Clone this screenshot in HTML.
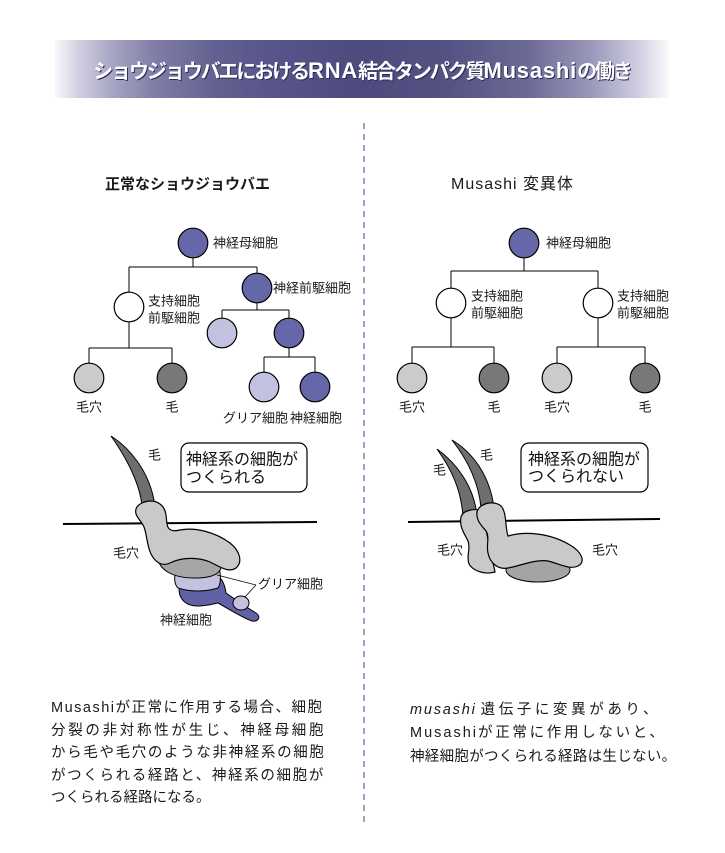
<!DOCTYPE html>
<html>
<head>
<meta charset="utf-8">
<style>
html,body{margin:0;padding:0;background:#fff;}
body{width:725px;height:853px;position:relative;overflow:hidden;
font-family:"Liberation Sans","Noto Sans CJK JP",sans-serif;color:#1a1a1a;}
.bar{position:absolute;left:55px;top:40px;width:614px;height:58px;
background:linear-gradient(to right,#f7f7fa 0%,#d0cfe0 4%,#a9a7c5 9%,#817fa7 16%,#636190 26%,#56548a 36%,#4d4b7d 50%,#545283 64%,#6c6a95 77%,#9896b8 87%,#cfcee0 95%,#fbfbfd 100%);
display:flex;align-items:center;justify-content:center;}
.bar .t{color:#fff;font-weight:bold;font-size:20px;letter-spacing:-2.1px;white-space:nowrap;
text-shadow:1px 1px 0 #2c2a55;font-family:"Liberation Sans","Noto Sans CJK JP",sans-serif;}
.bar .l{font-size:22px;letter-spacing:0.8px;}
.h{position:absolute;white-space:nowrap;line-height:20px;}
.p{position:absolute;white-space:nowrap;font-size:14.5px;line-height:20px;color:#1a1a1a;}
</style>
</head>
<body>
<div class="bar"><span class="t">ショウジョウバエにおける<span class="l">RNA</span>結合タンパク質<span class="l">Musashi</span>の働き</span></div>

<div class="h" style="left:105px;top:175px;font-size:15px;font-weight:bold;">正常なショウジョウバエ</div>
<div class="h" style="left:451px;top:175px;font-size:16px;letter-spacing:1px;">Musashi 変異体</div>

<svg width="725" height="853" viewBox="0 0 725 853" style="position:absolute;left:0;top:0;" xmlns="http://www.w3.org/2000/svg">
<line x1="364" y1="123" x2="364" y2="823" stroke="#6c6cae" stroke-width="1.3" stroke-dasharray="6 5"/>

<!-- LEFT TREE lines -->
<g stroke="#000" stroke-width="1" fill="none">
<path d="M193,258 V267 M129,267 H257 M129,267 V292 M257,267 V273"/>
<path d="M129,322 V348 M89,348 H172 M89,348 V363 M172,348 V363"/>
<path d="M257,303 V310 M222,310 H289 M222,310 V318 M289,310 V318"/>
<path d="M289,348 V357 M264,357 H315 M264,357 V372 M315,357 V372"/>
</g>
<g stroke="#000" stroke-width="1.2">
<circle cx="193" cy="243" r="14.8" fill="#6667a9"/>
<circle cx="129" cy="307" r="14.8" fill="#fff"/>
<circle cx="257" cy="288" r="14.8" fill="#6667a9"/>
<circle cx="89" cy="378" r="14.8" fill="#cbcbcb"/>
<circle cx="172" cy="378" r="14.8" fill="#787878"/>
<circle cx="222" cy="333" r="14.8" fill="#c2c1df"/>
<circle cx="289" cy="333" r="14.8" fill="#6667a9"/>
<circle cx="264" cy="387" r="14.8" fill="#c2c1df"/>
<circle cx="315" cy="387" r="14.8" fill="#6667a9"/>
</g>

<!-- RIGHT TREE lines -->
<g stroke="#000" stroke-width="1" fill="none">
<path d="M524,258 V271 M451,271 H598 M451,271 V288 M598,271 V288"/>
<path d="M451,318 V347 M412,347 H494 M412,347 V363 M494,347 V363"/>
<path d="M598,318 V347 M557,347 H645 M557,347 V363 M645,347 V363"/>
</g>
<g stroke="#000" stroke-width="1.2">
<circle cx="524" cy="243" r="14.8" fill="#6667a9"/>
<circle cx="451" cy="303" r="14.8" fill="#fff"/>
<circle cx="598" cy="303" r="14.8" fill="#fff"/>
<circle cx="412" cy="378" r="14.8" fill="#cbcbcb"/>
<circle cx="494" cy="378" r="14.8" fill="#787878"/>
<circle cx="557" cy="378" r="14.8" fill="#cbcbcb"/>
<circle cx="645" cy="378" r="14.8" fill="#787878"/>
</g>

<!-- tree labels -->
<g font-family="Liberation Sans, Noto Sans CJK JP, sans-serif" font-size="13" fill="#1a1a1a" dominant-baseline="central">
<text x="213" y="243">神経母細胞</text>
<text x="148" y="301">支持細胞</text>
<text x="148" y="318">前駆細胞</text>
<text x="273" y="288">神経前駆細胞</text>
<text x="89" y="407" text-anchor="middle">毛穴</text>
<text x="172" y="407" text-anchor="middle">毛</text>
<text x="223" y="418">グリア細胞</text>
<text x="290" y="418">神経細胞</text>

<text x="546" y="243">神経母細胞</text>
<text x="471" y="296">支持細胞</text>
<text x="471" y="313">前駆細胞</text>
<text x="617" y="296">支持細胞</text>
<text x="617" y="313">前駆細胞</text>
<text x="412" y="407" text-anchor="middle">毛穴</text>
<text x="494" y="407" text-anchor="middle">毛</text>
<text x="557" y="407" text-anchor="middle">毛穴</text>
<text x="645" y="407" text-anchor="middle">毛</text>
</g>

<!-- LEFT ILLUSTRATION -->
<line x1="63" y1="524" x2="317" y2="522" stroke="#000" stroke-width="2"/>
<path d="M111,436 C128,447 150,470 155,506 L142,506 C140,485 128,460 111,436 Z" fill="#6e6e6e" stroke="#000" stroke-width="1"/>
<path d="M182,580 C175,592 181,606 198,606 C207,606 213,604 218,603 C229,609 241,617 252,621 C259,622 261,616 256,613 C246,607 236,600 226,593 C225,585 222,579 218,576 Z" fill="#6062a5" stroke="#000" stroke-width="1"/>
<path d="M176,568 L219,566 C221,577 221,583 218,588 C205,592 190,592 178,588 C174,584 174,578 176,568 Z" fill="#c3c2e0" stroke="#000" stroke-width="1"/>
<path d="M157,556 C159,570 172,578 195,578 C210,578 219,575 221,568 L216,554 L165,552 Z" fill="#a6a6a6" stroke="#000" stroke-width="1"/>
<path d="M136,509 C138,502 152,498 160,504 C167,509 166,518 167,524 C168,530 172,532 180,530 C195,527 215,532 230,543 C240,551 243,562 236,568 C229,573 220,567 210,562 C198,557 182,557 170,563 C162,567 155,562 151,554 C147,546 147,535 144,527 C141,520 134,516 136,509 Z" fill="#c9c9c9" stroke="#000" stroke-width="1.2"/>
<ellipse cx="241" cy="603" rx="8" ry="7" fill="#c3c2e0" stroke="#000" stroke-width="1"/>
<path d="M256,585 L217,575 M256,585 L245,597" stroke="#000" stroke-width="0.8" fill="none"/>
<rect x="181" y="443" width="126" height="49" rx="8" ry="8" fill="#fff" stroke="#000" stroke-width="1.2"/>

<!-- RIGHT ILLUSTRATION -->
<line x1="408" y1="522" x2="660" y2="519" stroke="#000" stroke-width="2"/>
<ellipse cx="538" cy="570" rx="32" ry="12" fill="#a4a4a4" stroke="#000" stroke-width="1"/>
<path d="M437,449 C455,462 474,485 477,516 L463,516 C461,490 452,470 437,449 Z" fill="#6e6e6e" stroke="#000" stroke-width="1"/>
<path d="M461,517 C463,510 475,508 482,511 L495,572 C485,575 473,571 469,564 C466,556 471,549 468,541 C464,533 459,526 461,517 Z" fill="#c9c9c9" stroke="#000" stroke-width="1.2"/>
<path d="M452,440 C472,452 490,475 494,508 L481,508 C479,485 470,463 452,440 Z" fill="#6e6e6e" stroke="#000" stroke-width="1"/>
<path d="M477,512 C479,503 494,500 501,506 C507,512 505,528 508,536 C525,531 550,533 570,545 C582,552 586,562 578,566 C570,570 560,564 548,561 C535,559 520,566 508,568 C498,570 490,563 488,553 C486,545 490,537 486,531 C482,526 476,521 477,512 Z" fill="#c9c9c9" stroke="#000" stroke-width="1.2"/>
<rect x="521" y="443" width="127" height="49" rx="8" ry="8" fill="#fff" stroke="#000" stroke-width="1.2"/>

<g font-family="Liberation Sans, Noto Sans CJK JP, sans-serif" font-size="13" fill="#1a1a1a" dominant-baseline="central">
<text x="148" y="455">毛</text>
<text x="113" y="553">毛穴</text>
<text x="258" y="584">グリア細胞</text>
<text x="160" y="620">神経細胞</text>
<text x="433" y="470">毛</text>
<text x="480" y="455">毛</text>
<text x="437" y="550">毛穴</text>
<text x="592" y="550">毛穴</text>
</g>
<g font-family="Liberation Sans, Noto Sans CJK JP, sans-serif" font-size="16" fill="#111" dominant-baseline="central">
<text x="186" y="460">神経系の細胞が</text>
<text x="186" y="478">つくられる</text>
<text x="528" y="460">神経系の細胞が</text>
<text x="528" y="477">つくられない</text>
</g>
</svg>

<!-- left paragraph -->
<div class="p" style="left:51px;top:698px;letter-spacing:1.5px;">Musashiが正常に作用する場合、細胞</div>
<div class="p" style="left:51px;top:721px;letter-spacing:2.7px;">分裂の非対称性が生じ、神経母細胞</div>
<div class="p" style="left:51px;top:743px;letter-spacing:1.65px;">から毛や毛穴のような非神経系の細胞</div>
<div class="p" style="left:51px;top:766px;letter-spacing:1.65px;">がつくられる経路と、神経系の細胞が</div>
<div class="p" style="left:51px;top:788px;letter-spacing:0px;">つくられる経路になる。</div>

<!-- right paragraph -->
<div class="p" style="left:410px;top:700px;"><i style="letter-spacing:1.8px;">musashi</i> <span style="letter-spacing:3.6px;">遺伝子に変異があり、</span></div>
<div class="p" style="left:410px;top:723px;"><span style="letter-spacing:2px;">Musashi</span><span style="letter-spacing:2.7px;">が正常に作用しないと、</span></div>
<div class="p" style="left:410px;top:747px;letter-spacing:0.3px;">神経細胞がつくられる経路は生じない。</div>
</body>
</html>
